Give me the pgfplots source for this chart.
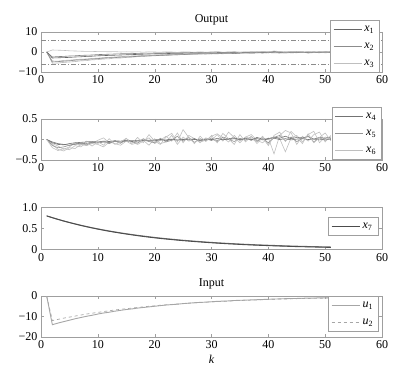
\documentclass[border=0pt]{standalone}
\usepackage{fontspec}
\setmainfont{Liberation Serif}
\usepackage{pgfplots}
\usepackage{pgfplotstable}
\pgfplotsset{compat=1.18}

\pgfplotstableread{
k A B C D E F
1 0 0 0 0 0 0
2 -3.0 -5.0 1.0 -5.6 -4.5 -2.5
3 -2.9 -4.8 0.9 -5.5 -4.6 -2.3
4 -2.8 -4.6 0.8 -5.2 -4.2 -2.2
5 -2.7 -4.4 0.6 -5.0 -4.1 -2.0
6 -2.5 -4.1 0.5 -4.8 -3.8 -1.9
7 -2.4 -3.9 0.4 -4.4 -3.6 -1.7
8 -2.2 -3.7 0.3 -4.3 -3.5 -1.6
9 -2.1 -3.5 0.3 -3.9 -3.2 -1.5
10 -1.9 -3.3 0.2 -3.8 -3.1 -1.3
11 -1.8 -3.1 0.2 -3.5 -2.8 -1.2
12 -1.7 -2.9 0.1 -3.4 -2.7 -1.1
13 -1.6 -2.8 0.2 -3.0 -2.5 -1.0
14 -1.5 -2.6 0.0 -3.0 -2.3 -0.9
15 -1.4 -2.5 0.1 -2.7 -2.2 -0.9
16 -1.3 -2.3 0.0 -2.6 -2.0 -0.8
17 -1.2 -2.2 0.1 -2.3 -1.9 -0.7
18 -1.1 -2.0 -0.1 -2.3 -1.7 -0.6
19 -1.0 -1.9 0.1 -2.0 -1.7 -0.6
20 -0.9 -1.8 0.0 -1.9 -1.5 -0.5
21 -0.9 -1.7 -0.1 -1.7 -1.4 -0.5
22 -0.8 -1.5 0.1 -1.8 -1.3 -0.4
23 -0.7 -1.5 0.0 -1.4 -1.2 -0.4
24 -0.7 -1.3 -0.2 -1.5 -1.1 -0.3
25 -0.6 -1.3 0.1 -1.2 -1.0 -0.3
26 -0.6 -1.1 0.0 -1.3 -0.9 -0.3
27 -0.5 -1.1 -0.1 -1.0 -0.9 -0.2
28 -0.5 -0.9 0.1 -1.1 -0.7 -0.2
29 -0.4 -1.0 -0.1 -0.8 -0.8 -0.2
30 -0.5 -0.8 0.0 -1.0 -0.6 -0.1
31 -0.4 -0.9 0.2 -0.7 -0.7 -0.1
32 -0.3 -0.7 -0.1 -0.9 -0.5 -0.2
33 -0.3 -0.6 0.0 -0.5 -0.6 -0.1
34 -0.4 -0.8 0.1 -0.7 -0.4 0.0
35 -0.3 -0.6 -0.2 -0.6 -0.5 -0.1
36 -0.2 -0.5 0.1 -0.3 -0.3 -0.1
37 -0.2 -0.6 0.0 -0.6 -0.4 0.0
38 -0.3 -0.4 -0.1 -0.4 -0.2 0.1
39 -0.1 -0.5 0.2 -0.2 -0.4 0.0
40 -0.2 -0.3 0.0 -0.5 -0.1 0.0
41 0.1 -0.4 0.5 0.3 -0.3 0.2
42 -0.1 -0.5 0.2 -0.3 0.2 -0.1
43 -0.2 -0.2 -0.1 -0.6 -0.2 0.0
44 -0.1 -0.4 0.1 -0.2 -0.3 0.1
45 0.0 -0.3 0.3 -0.4 0.1 0.0
46 -0.2 -0.2 -0.1 0.1 -0.3 0.0
47 -0.1 -0.4 0.2 -0.5 0.0 -0.1
48 0.0 -0.2 0.0 -0.3 -0.2 -0.1
49 -0.1 -0.3 0.1 0.0 -0.4 0.0
50 -0.1 -0.1 -0.1 -0.4 0.0 0.0
51 0.0 -0.2 0.1 -0.2 -0.1 0.0
}\outtab

\pgfplotstableread{
k a b c d e f
1 0 0 0 0 0 0
2 -0.08 -0.15 -0.20 -0.12 -0.10 -0.06
3 -0.12 -0.20 -0.27 -0.24 -0.16 -0.10
4 -0.13 -0.18 -0.22 -0.28 -0.24 -0.12
5 -0.10 -0.14 -0.25 -0.20 -0.18 -0.14
6 -0.08 -0.12 -0.15 -0.22 -0.08 -0.11
7 -0.07 -0.10 -0.18 -0.12 -0.14 -0.09
8 -0.06 -0.13 -0.08 -0.15 -0.04 -0.10
9 -0.05 -0.07 -0.16 -0.10 -0.10 -0.07
10 -0.06 -0.09 -0.05 -0.12 -0.02 -0.08
11 -0.04 -0.05 -0.14 -0.18 0.04 -0.06
12 -0.05 -0.10 0.02 -0.06 -0.08 -0.07
13 -0.03 -0.04 -0.12 -0.10 -0.03 -0.05
14 -0.04 -0.08 -0.06 -0.14 -0.10 -0.06
15 -0.02 -0.03 0.03 -0.04 0.02 -0.03
16 -0.03 -0.06 -0.10 -0.12 -0.06 -0.05
17 -0.02 -0.09 0.05 -0.08 -0.12 -0.04
18 -0.01 0.02 -0.08 -0.02 -0.04 -0.02
19 -0.02 -0.05 0.12 -0.14 0.04 -0.04
20 -0.01 -0.08 -0.04 0.02 -0.10 -0.03
21 0.00 0.03 -0.12 -0.10 -0.02 -0.01
22 -0.01 -0.06 0.06 -0.06 0.08 -0.03
23 0.01 -0.02 0.15 0.10 -0.04 0.00
24 -0.01 0.08 -0.06 -0.12 0.16 -0.02
25 0.00 -0.04 0.24 0.06 -0.08 0.01
26 0.01 0.05 0.05 -0.04 0.10 -0.01
27 0.00 -0.07 -0.10 0.02 0.02 0.02
28 -0.01 0.02 0.08 -0.08 -0.06 -0.03
29 0.01 -0.03 -0.05 0.04 -0.02 0.01
30 0.00 0.04 0.10 -0.02 0.08 -0.02
31 -0.02 -0.06 -0.08 0.12 0.14 0.03
32 0.01 0.06 0.15 -0.04 0.04 -0.01
33 0.00 0.01 0.02 0.18 -0.06 0.02
34 0.02 -0.05 -0.12 0.05 0.10 0.04
35 -0.01 0.03 0.12 -0.08 -0.04 0.00
36 0.01 -0.02 -0.06 0.06 0.06 0.03
37 0.00 0.07 0.08 0.02 0.12 -0.02
38 0.02 -0.04 -0.10 -0.06 -0.02 0.05
39 -0.01 0.02 0.05 0.08 -0.08 0.01
40 0.01 -0.08 -0.15 -0.12 0.04 0.02
41 0.03 0.05 0.10 0.06 -0.35 0.06
42 0.00 0.10 0.18 0.02 0.10 0.03
43 0.02 -0.03 -0.05 -0.30 0.22 0.08
44 -0.01 0.06 0.20 0.04 0.16 0.02
45 0.01 -0.05 0.06 0.10 -0.12 0.05
46 0.02 0.02 -0.10 -0.06 0.08 0.04
47 0.00 0.09 0.14 0.12 -0.04 0.07
48 0.01 -0.06 -0.08 0.20 0.12 0.01
49 -0.01 0.04 0.05 -0.08 0.18 0.05
50 0.01 -0.02 0.16 0.06 -0.06 0.03
51 0.00 0.03 -0.03 0.02 0.10 0.06
}\midtab

\pgfplotstableread{
k a b
1 0.800 0.800
2 0.757 0.758
3 0.716 0.718
4 0.677 0.680
5 0.641 0.644
6 0.606 0.610
7 0.573 0.578
8 0.542 0.547
9 0.513 0.518
10 0.485 0.491
11 0.459 0.465
12 0.434 0.441
13 0.411 0.418
14 0.389 0.396
15 0.368 0.375
16 0.348 0.356
17 0.329 0.337
18 0.311 0.320
19 0.294 0.303
20 0.278 0.287
21 0.263 0.272
22 0.249 0.258
23 0.236 0.245
24 0.223 0.232
25 0.211 0.220
26 0.200 0.209
27 0.189 0.198
28 0.179 0.188
29 0.169 0.178
30 0.160 0.169
31 0.151 0.160
32 0.143 0.152
33 0.135 0.144
34 0.128 0.137
35 0.121 0.130
36 0.114 0.123
37 0.108 0.117
38 0.102 0.111
39 0.097 0.106
40 0.092 0.101
41 0.087 0.096
42 0.082 0.091
43 0.078 0.087
44 0.073 0.082
45 0.069 0.078
46 0.066 0.075
47 0.062 0.071
48 0.059 0.068
49 0.056 0.065
50 0.053 0.062
51 0.050 0.059
}\xsevtab

\pgfplotstableread{
k u1 u2
1 0 0
2 -14.0 -12.0
3 -13.2 -11.4
4 -12.5 -10.8
5 -11.8 -10.3
6 -11.1 -9.8
7 -10.5 -9.3
8 -9.9 -8.8
9 -9.4 -8.4
10 -8.8 -8.0
11 -8.3 -7.6
12 -7.9 -7.2
13 -7.4 -6.8
14 -7.0 -6.5
15 -6.6 -6.2
16 -6.3 -5.9
17 -5.9 -5.6
18 -5.6 -5.3
19 -5.3 -5.0
20 -5.0 -4.8
21 -4.7 -4.5
22 -4.4 -4.3
23 -4.2 -4.1
24 -4.0 -3.9
25 -3.7 -3.7
26 -3.5 -3.5
27 -3.3 -3.3
28 -3.1 -3.2
29 -3.0 -3.0
30 -2.8 -2.9
31 -2.6 -2.7
32 -2.5 -2.6
33 -2.4 -2.5
34 -2.2 -2.3
35 -2.1 -2.2
36 -2.0 -2.1
37 -1.9 -2.0
38 -1.8 -1.9
39 -1.7 -1.8
40 -1.6 -1.7
41 -1.5 -1.6
42 -1.4 -1.5
43 -1.3 -1.5
44 -1.2 -1.4
45 -1.2 -1.3
46 -1.1 -1.2
47 -1.0 -1.2
48 -1.0 -1.1
49 -0.9 -1.1
50 -0.9 -1.0
51 -0.8 -1.0
}\intab

\pgfplotsset{
  legend image code/.code={\draw[#1] (0pt,0pt) -- (28pt,0pt);},
  panel/.style={
    scale only axis, width=341pt,
    xmin=0, xmax=60, xtick={0,10,...,60},
    axis line style={gray!75},
    tick style={gray!75, major tick length=3pt},
    tick align=inside,
    ticklabel style={font=\fontsize{12}{14}\selectfont},
    /pgf/number format/assume math mode=true,
    title style={font=\fontsize{12}{14}\selectfont, yshift=-3pt},
    legend cell align=left,
    legend style={draw=gray!75, fill=white, anchor=north west,
      font=\fontsize{12}{14}\selectfont,
      inner xsep=3pt, inner ysep=1pt, row sep=1pt,
      nodes={inner sep=2.5pt, text height=8pt, text depth=3pt}},
    every axis plot/.append style={line width=0.6pt},
  }
}

\begin{document}
\begin{tikzpicture}
\path[use as bounding box] (0,0) rectangle (414pt,375pt);

% Output
\begin{axis}[panel, at={(41pt,303pt)}, anchor=south west, height=40pt,
  ymin=-10, ymax=10, ytick={-10,0,10}, yticklabels={−10,0,10},
  title={Output},
  legend style={at={(0.8475,1.3)}}]
\addplot[black!45, dash pattern=on 5pt off 2pt on 1pt off 2pt, line width=0.45pt, forget plot] coordinates {(0,6) (60,6)};
\addplot[black!45, dash pattern=on 5pt off 2pt on 1pt off 2pt, line width=0.45pt, forget plot] coordinates {(0,-6) (60,-6)};
\addplot[black!28, forget plot] table[x=k,y=D] {\outtab};
\addplot[black!28, forget plot] table[x=k,y=E] {\outtab};
\addplot[black!50, forget plot] table[x=k,y=F] {\outtab};
\addplot[black!60] table[x=k,y=A] {\outtab};
\addplot[black!45] table[x=k,y=B] {\outtab};
\addplot[black!25] table[x=k,y=C] {\outtab};
\legend{{\itshape x}\textsubscript{1},{\itshape x}\textsubscript{2},{\itshape x}\textsubscript{3}}
\end{axis}

% x4..x6
\begin{axis}[panel, at={(41pt,215pt)}, anchor=south west, height=41pt,
  ymin=-0.5, ymax=0.5, ytick={-0.5,0,0.5}, yticklabels={−0.5,0,0.5},
  legend style={at={(0.853,1.293)}}]
\addplot[black!25, forget plot] table[x=k,y=d] {\midtab};
\addplot[black!25, forget plot] table[x=k,y=e] {\midtab};
\addplot[black!55, forget plot] table[x=k,y=f] {\midtab};
\addplot[black!55] table[x=k,y=a] {\midtab};
\addplot[black!42] table[x=k,y=b] {\midtab};
\addplot[black!25] table[x=k,y=c] {\midtab};
\legend{{\itshape x}\textsubscript{4},{\itshape x}\textsubscript{5},{\itshape x}\textsubscript{6}}
\end{axis}

% x7
\begin{axis}[panel, at={(41pt,125.5pt)}, anchor=south west, height=42pt,
  ymin=0, ymax=1, ytick={0,0.5,1}, yticklabels={0,0.5,1.0},
  legend style={at={(0.8416,0.774)}}]
\addplot[black!55, line width=1pt, forget plot] table[x=k,y=b] {\xsevtab};
\addplot[black!70, line width=0.9pt] table[x=k,y=a] {\xsevtab};
\legend{{\itshape x}\textsubscript{7}}
\end{axis}

% Input
\begin{axis}[panel, at={(41pt,38pt)}, anchor=south west, height=41pt,
  ymin=-20, ymax=0, ytick={-20,-10,0}, yticklabels={−20,−10,0},
  title={Input},
  xlabel={\itshape k}, xlabel style={font=\fontsize{12}{14}\selectfont},
  legend style={at={(0.8416,1.0)}}]
\addplot[black!35, line width=0.9pt] table[x=k,y=u1] {\intab};
\addplot[black!35, dashed, line width=0.7pt] table[x=k,y=u2] {\intab};
\legend{{\itshape u}\textsubscript{1},{\itshape u}\textsubscript{2}}
\end{axis}
\end{tikzpicture}
\end{document}
